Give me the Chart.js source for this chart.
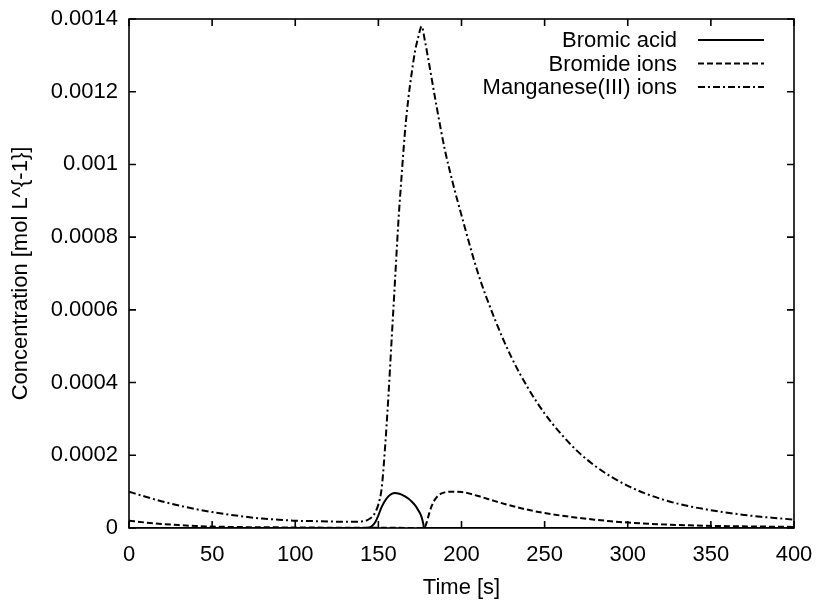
<!DOCTYPE html>
<html><head><meta charset="utf-8">
<script src="https://cdn.jsdelivr.net/npm/chart.js@4/dist/chart.umd.min.js"></script>
<style>html,body{margin:0;padding:0;background:#fff}#wrap{width:817px;height:603px}</style>
</head><body><div id="wrap"><canvas id="c" width="817" height="603"></canvas></div>
<script>
const seriesNames = ["Bromic acid", "Bromide ions", "Manganese(III) ions"];
const xTitle = "Time [s]";
const yTitle = "Concentration [mol L^{-1}]";

const bromicTime = [0,140,144,146,148,150,152,154,156,158,160,162,164,166,168,170,172,174,176,177,177.5,180,400];
const bromicConc = [0,0,1e-6,5e-6,1.5e-5,3.5e-5,5.8e-5,7.5e-5,8.7e-5,9.4e-5,9.6e-5,9.5e-5,9.2e-5,8.7e-5,8.1e-5,7.3e-5,6.3e-5,4.9e-5,3.0e-5,1.2e-5,0,0,0];

const bromideTime = [0,10,20,30,40,50,60,80,100,120,140,160,177.5,179,180,182,184,186,188,190,194,200,210,220,230,240,250,260,270,280,290,300,320,340,360,380,400];
const bromideConc = [2.0e-5,1.5e-5,1.1e-5,8e-6,5.5e-6,4e-6,3e-6,2e-6,1.5e-6,1e-6,1e-6,0.5e-6,0,1.5e-5,3.1e-5,6.0e-5,7.8e-5,8.9e-5,9.5e-5,9.8e-5,1.0e-4,9.9e-5,8.8e-5,7.4e-5,6.1e-5,5.0e-5,4.1e-5,3.4e-5,2.8e-5,2.3e-5,1.85e-5,1.5e-5,1.0e-5,7e-6,5e-6,4e-6,3e-6];

const manganeseTime = [0,10,20,30,40,50,60,70,80,90,100,110,120,130,140,145,148,150,152,154,156,158,160,162,164,166,168,170,172,174,176,178,180,185,190,195,200,210,220,230,240,250,260,270,280,290,300,310,320,330,340,350,360,370,380,390,400];
const manganeseConc = [1.0e-4,8.6e-5,7.3e-5,6.2e-5,5.2e-5,4.4e-5,3.7e-5,3.1e-5,2.6e-5,2.3e-5,2.0e-5,1.9e-5,1.8e-5,1.7e-5,1.8e-5,2.6e-5,4.2e-5,6.5e-5,1.1e-4,2.2e-4,3.6e-4,5.2e-4,6.8e-4,8.4e-4,9.7e-4,1.09e-3,1.18e-3,1.25e-3,1.31e-3,1.35e-3,1.38e-3,1.34e-3,1.29e-3,1.16e-3,1.04e-3,0.945e-3,0.86e-3,0.70e-3,0.575e-3,0.47e-3,0.385e-3,0.315e-3,0.258e-3,0.21e-3,0.172e-3,0.141e-3,0.116e-3,0.096e-3,0.080e-3,0.067e-3,0.057e-3,0.049e-3,0.042e-3,0.036e-3,0.031e-3,0.027e-3,0.023e-3];

const xTickStep = 50, xMin = 0, xMax = 400;
const yTickStep = 0.0002, yMin = 0, yMax = 0.0014;

const FONT = "'Liberation Sans', Arial, Helvetica, sans-serif";
const FS = 22;

function pts(t, c){ return t.map((v,i)=>({x:v, y:c[i]})); }
const dashes = [[], [6,3], [7,3,2,3]];

const frameAndLegend = {
  id: 'frameAndLegend',
  afterDraw(chart){
    const {ctx, chartArea:a, scales:{x,y}} = chart;
    ctx.save();
    ctx.strokeStyle = '#000';
    ctx.lineWidth = 1.6;
    ctx.setLineDash([]);
    ctx.strokeRect(a.left, a.top, a.right - a.left, a.bottom - a.top);
    const tl = 7;
    ctx.beginPath();
    x.ticks.forEach(t => {
      const px = x.getPixelForValue(t.value);
      ctx.moveTo(px, a.bottom); ctx.lineTo(px, a.bottom - tl);
      ctx.moveTo(px, a.top); ctx.lineTo(px, a.top + tl);
    });
    y.ticks.forEach(t => {
      const py = y.getPixelForValue(t.value);
      ctx.moveTo(a.left, py); ctx.lineTo(a.left + tl, py);
      ctx.moveTo(a.right, py); ctx.lineTo(a.right - tl, py);
    });
    ctx.stroke();
    ctx.font = FS + 'px ' + FONT;
    ctx.fillStyle = '#000';
    ctx.textAlign = 'right';
    ctx.textBaseline = 'middle';
    const textRight = 677, s0 = 698, s1 = 764, row0 = 40, rowH = 23.5;
    chart.data.datasets.forEach((ds, i) => {
      const yy = row0 + i * rowH;
      ctx.fillText(ds.label, textRight, yy + 1);
      ctx.beginPath();
      ctx.lineWidth = ds.borderWidth;
      ctx.setLineDash(ds.borderDash || []);
      ctx.moveTo(s0, yy); ctx.lineTo(s1, yy);
      ctx.stroke();
    });
    ctx.restore();
  }
};

const seriesTimes = [bromicTime, bromideTime, manganeseTime];
const seriesConcs = [bromicConc, bromideConc, manganeseConc];

function noPad(s){ s.paddingLeft = 0; s.paddingRight = 0; s.paddingTop = 0; s.paddingBottom = 0; }

new Chart(document.getElementById('c'), {
  type: 'line',
  data: {
    datasets: seriesNames.map((name, i) => ({
      label: name,
      data: pts(seriesTimes[i], seriesConcs[i]),
      borderColor: '#000',
      borderWidth: 2,
      borderDash: dashes[i],
      pointRadius: 0,
      fill: false,
      cubicInterpolationMode: 'monotone'
    }))
  },
  options: {
    responsive: false,
    animation: false,
    layout: { padding: { top: 19, right: 23, left: 0, bottom: 0 } },
    plugins: { legend: { display: false }, tooltip: { enabled: false } },
    scales: {
      x: {
        type: 'linear', min: xMin, max: xMax,
        grid: { display: false, drawTicks: false },
        border: { display: false },
        ticks: { stepSize: xTickStep, color: '#000', padding: 14, font: { family: FONT, size: FS } },
        title: { display: true, text: xTitle, color: '#000', font: { family: FONT, size: FS }, padding: { top: 2, bottom: 2 } },
        afterFit: s => { s.height = 75; noPad(s); }
      },
      y: {
        type: 'linear', min: yMin, max: yMax,
        grid: { display: false, drawTicks: false },
        border: { display: false },
        ticks: { stepSize: yTickStep, color: '#000', padding: 11, font: { family: FONT, size: FS },
          callback: v => String(Number(v.toFixed(4))) },
        title: { display: true, text: yTitle, color: '#000', font: { family: FONT, size: FS }, padding: { top: 8, bottom: 0 } },
        afterFit: s => { s.width = 129; noPad(s); }
      }
    }
  },
  plugins: [frameAndLegend]
});
</script></body></html>
